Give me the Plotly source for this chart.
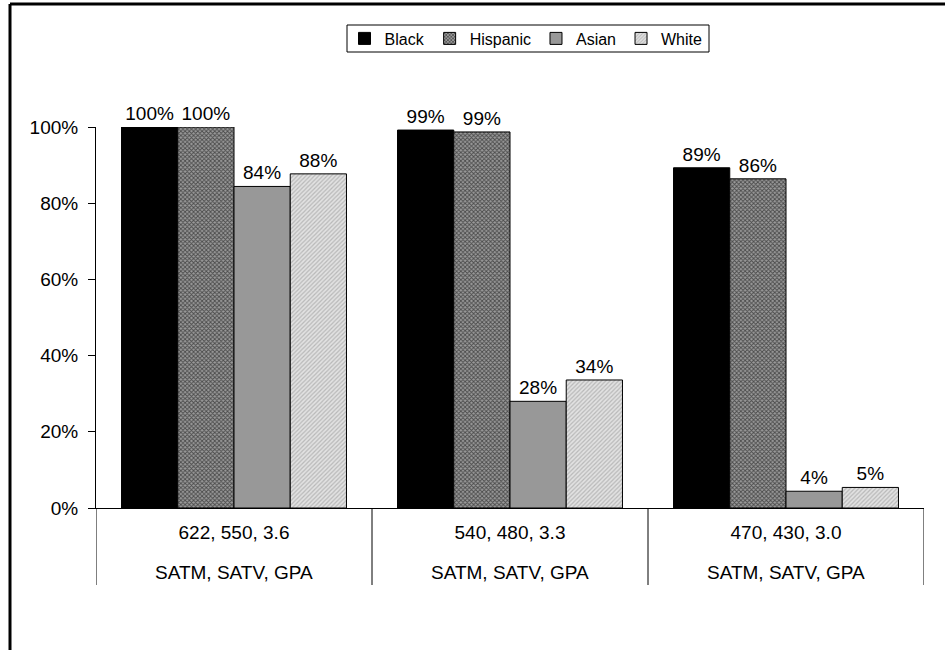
import plotly.graph_objects as go

# ---- data ----
categories = ["622, 550, 3.6", "540, 480, 3.3", "470, 430, 3.0"]
sublabels = ["SATM, SATV, GPA", "SATM, SATV, GPA", "SATM, SATV, GPA"]
series_names = ["Black", "Hispanic", "Asian", "White"]
black = [100.0, 99.2, 89.3]
hispanic = [100.0, 98.7, 86.4]
asian = [84.4, 28.0, 4.4]
white = [87.7, 33.6, 5.4]
y_ticks = [0, 20, 40, 60, 80, 100]
y_tick_labels = ["0%", "20%", "40%", "60%", "80%", "100%"]

# ---- geometry (pixels) ----
W, H = 945, 650
L, R, T, B = 96, 924, 127, 508
pw, ph = R - L, B - T

def px_x(x):
    return (x - L) / pw

def px_y(y):
    return (B - y) / ph

FONT = "Liberation Sans, Arial, sans-serif"
FS = 19

styles = [
    dict(color="#000000"),
    dict(color="#7a7a7a", pattern=dict(shape="x", bgcolor="#9a9a9a", fgcolor="#4a4a4a", size=3, solidity=0.5, fillmode="replace")),
    dict(color="#989898"),
    dict(color="#d8d8d8", pattern=dict(shape="/", bgcolor="#e2e2e2", fgcolor="#b8b8b8", size=3, solidity=0.4, fillmode="replace")),
]

fig = go.Figure()
for name, vals, st in zip(series_names, [black, hispanic, asian, white], styles):
    marker = dict(line=dict(color="#000000", width=1))
    marker.update(st)
    fig.add_trace(go.Bar(
        name=name, x=categories, y=vals, marker=marker,
        texttemplate="%{y:.0f}%", textposition="outside",
        textfont=dict(family=FONT, size=FS, color="#000000"),
        cliponaxis=False,
    ))

shapes = []
n = len(categories)
for i in range(n + 1):
    shapes.append(dict(type="line", xref="x", yref="paper",
                       x0=i - 0.5, x1=i - 0.5, y0=0, y1=px_y(585),
                       line=dict(color="#000000", width=1)))
# outer frame (top and left)
shapes.append(dict(type="line", xref="paper", yref="paper",
                   x0=px_x(10), x1=px_x(W + 5), y0=px_y(4), y1=px_y(4),
                   line=dict(color="#000000", width=3)))
shapes.append(dict(type="line", xref="paper", yref="paper",
                   x0=px_x(10), x1=px_x(10), y0=px_y(4), y1=px_y(H + 5),
                   line=dict(color="#000000", width=3)))
# legend box
shapes.append(dict(type="rect", xref="paper", yref="paper",
                   x0=px_x(347), x1=px_x(709), y0=px_y(25), y1=px_y(52),
                   line=dict(color="#000000", width=1), fillcolor="rgba(0,0,0,0)"))

annotations = []
for c, s in zip(categories, sublabels):
    annotations.append(dict(x=c, xref="x", y=px_y(572), yref="paper",
                            text=s, showarrow=False, yanchor="middle",
                            font=dict(family=FONT, size=FS, color="#000000")))

fig.update_layout(
    width=W, height=H,
    margin=dict(l=L, r=W - R, t=T, b=H - B, autoexpand=False),
    paper_bgcolor="white", plot_bgcolor="white",
    barmode="group", bargap=0.185, bargroupgap=0,
    font=dict(family=FONT, size=FS, color="#000000"),
    showlegend=True,
    legend=dict(orientation="h", x=px_x(526), xanchor="center",
                y=px_y(38.5), yanchor="middle",
                borderwidth=0, bgcolor="rgba(0,0,0,0)",
                font=dict(family=FONT, size=16, color="#000000"),
                traceorder="normal", itemwidth=30),
    shapes=shapes,
    annotations=annotations,
    xaxis=dict(type="category", range=[-0.5, n - 0.5], showline=True,
               linecolor="#000000", linewidth=1, ticks="", showgrid=False,
               tickfont=dict(family=FONT, size=FS, color="#000000"),
               ticklabelstandoff=7),
    yaxis=dict(range=[0, 100], tickvals=y_ticks, ticktext=y_tick_labels,
               showline=True, linecolor="#000000", linewidth=1,
               ticks="outside", ticklen=7, tickcolor="#000000",
               showgrid=False, zeroline=False,
               tickfont=dict(family=FONT, size=FS, color="#000000"),
               ticklabelstandoff=6),
)

fig.write_html("out.html")
